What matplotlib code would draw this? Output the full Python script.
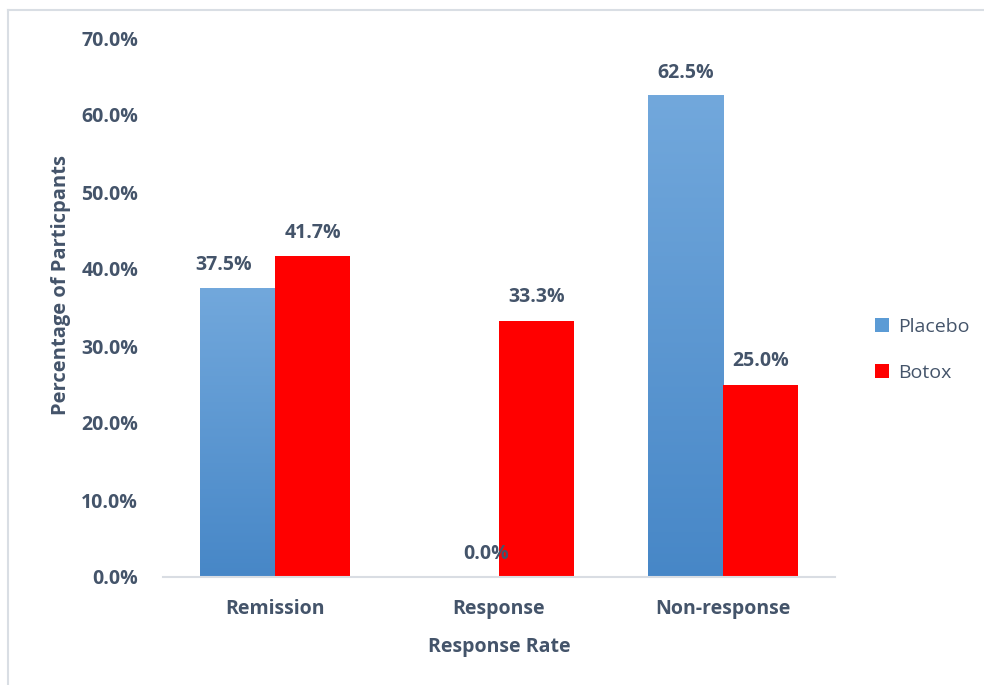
import numpy as np
import matplotlib.pyplot as plt
from matplotlib.lines import Line2D
from matplotlib.patches import Patch
from matplotlib.colors import LinearSegmentedColormap

categories = ['Remission', 'Response', 'Non-response']
placebo = [37.5, 0.0, 62.5]
botox = [41.7, 33.3, 25.0]
yticks = [0, 10, 20, 30, 40, 50, 60, 70]

txt = '#44546A'
plt.rcParams['font.family'] = ['Open Sans', 'DejaVu Sans']

fig = plt.figure(figsize=(9.84, 6.85), dpi=100)
ax = fig.add_axes([163/984, 1 - 577/685, (835-163)/984, (577-38)/685])

w = 0.335
x = np.arange(len(categories))

# blue bars with vertical gradient (light top, dark bottom)
grad = np.linspace(0, 1, 256).reshape(-1, 1)
cmap = LinearSegmentedColormap.from_list('pb', ['#4787C7', '#72A8DC'])
for xi, v in zip(x - w/2, placebo):
    if v > 0:
        ax.imshow(grad, cmap=cmap, origin='lower', aspect='auto',
                  extent=[xi - w/2, xi + w/2, 0, v], zorder=2)
ax.bar(x + w/2, botox, w, color='#FF0000', zorder=2)

fs = 14
# data labels (small pixel nudges)
nudge_p = [-14, 25, 0]
for xi, v, dx in zip(x - w/2, placebo, nudge_p):
    ax.annotate(f'{v:.1f}%', (xi, v), xytext=(dx * 0.72, 9.5), textcoords='offset points',
                ha='center', va='bottom', fontsize=fs, fontweight='bold', color=txt)
for xi, v in zip(x + w/2, botox):
    ax.annotate(f'{v:.1f}%', (xi, v), xytext=(0, 9.5), textcoords='offset points',
                ha='center', va='bottom', fontsize=fs, fontweight='bold', color=txt)

ax.set_xlim(-0.5, 2.5)
ax.set_ylim(0, 70)
ax.set_yticks(yticks)
ax.set_yticklabels([f'{t:.1f}%' for t in yticks], fontsize=fs, fontweight='bold', color=txt)
ax.set_xticks(x)
ax.set_xticklabels(categories, fontsize=fs, fontweight='bold', color=txt)
ax.tick_params(axis='y', length=0, pad=18)
ax.tick_params(axis='x', length=0, pad=16)
for s in ['top', 'right', 'left']:
    ax.spines[s].set_visible(False)
ax.spines['bottom'].set_color('#D9DDE3')
ax.spines['bottom'].set_linewidth(1.5)

ax.set_xlabel('Response Rate', fontsize=fs, fontweight='bold', color=txt, labelpad=13)
ax.set_ylabel('Percentage of Particpants', fontsize=14.5, fontweight='bold', color=txt)
ax.yaxis.set_label_coords(-0.137, 0.542)

handles = [Patch(facecolor='#5B9BD5'), Patch(facecolor='#FF0000')]
leg = fig.legend(handles, ['Placebo', 'Botox'], loc='center left',
                 bbox_to_anchor=(857/984, 1 - 350/685), frameon=False,
                 fontsize=fs, handlelength=0.75, handleheight=0.75,
                 handletextpad=0.45, labelspacing=1.45)
for t in leg.get_texts():
    t.set_color(txt)

# chart border
fig.add_artist(Line2D([7.5/984, 1], [1 - 9.5/685] * 2, color='#D9DEE4', lw=1.5))
fig.add_artist(Line2D([7.5/984] * 2, [0, 1 - 9.5/685], color='#D9DEE4', lw=1.5))

fig.savefig('out.png', dpi=100)
